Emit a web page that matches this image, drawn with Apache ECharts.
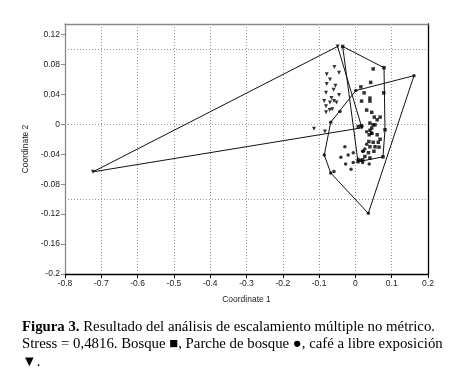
<!DOCTYPE html>
<html>
<head>
<meta charset="utf-8">
<script src="https://cdn.jsdelivr.net/npm/echarts@6/dist/echarts.min.js"></script>
<style>html,body{margin:0;padding:0;background:#fff}#c{width:450px;height:390px}</style>
</head>
<body>
<div id="c"></div>
<script>
// Bosque (squares)
var bosque = [
  [-0.035,0.104],[0.0788,0.0756],[0.0815,-0.0073],[0.076,-0.0435],[0.0071,-0.050],
  [0.049,0.074],[0.042,0.056],[0.015,0.050],[0.024,0.042],[0.040,0.035],[0.040,0.031],
  [0.017,0.031],[0.078,0.042],[0.031,0.019],[0.045,0.016],[0.052,0.0096],[0.060,0.006],
  [0.068,0.0096],[0.040,0.0016],[0.054,-0.0007],[0.008,-0.003],[0.017,-0.002],
  [0.049,-0.0007],[0.045,-0.005],[0.040,-0.008],[0.045,-0.012],[0.038,-0.014],
  [0.037,-0.023],[0.049,-0.024],[0.063,-0.024],[0.040,-0.030],[0.054,-0.030],
  [0.065,-0.0305],[0.036,-0.038],[0.051,-0.036],[0.026,-0.043],[0.040,-0.045],
  [0.020,-0.0475],[0.060,-0.014],[0.068,-0.020]
];
// Parche de bosque (circles)
var parche = [
  [0.001,0.045],[0.1614,0.065],[0.0355,-0.119],[-0.068,-0.065],[-0.0857,-0.041],[-0.068,0.0027],
  [-0.0424,0.017],[-0.029,-0.030],[-0.020,-0.041],[-0.040,-0.044],[-0.006,-0.038],
  [-0.027,-0.053],[-0.012,-0.060],[-0.006,-0.051],[0.008,-0.0466],[0.015,-0.048],
  [0.020,-0.051],[0.038,-0.053],[0.020,-0.036],[0.031,-0.0265],[0.026,-0.033],
  [0.022,-0.036],[-0.059,-0.063],[0.045,-0.012],[0.031,-0.010]
];
// Café a libre exposición (triangles)
var cafe = [
  [-0.723,-0.0635],[-0.049,0.104],[0.018,-0.0047],[-0.058,0.0765],[-0.045,0.069],
  [-0.079,0.067],[-0.070,0.060],[-0.079,0.054],[-0.055,0.0515],[-0.045,0.039],
  [-0.081,0.042],[-0.066,0.035],[-0.059,0.031],[-0.086,0.031],[-0.070,0.029],
  [-0.052,0.029],[-0.081,0.024],[-0.064,0.020],[-0.081,0.016],[-0.071,0.019],
  [-0.114,-0.006],[-0.084,-0.0096],[-0.060,0.046]
];
var yTicks = [-0.2,-0.16,-0.12,-0.08,-0.04,0,0.04,0.08,0.12];
var gridX = [-0.7,-0.6,-0.5,-0.4,-0.3,-0.2,-0.1,0,0.1];
var gridY = [-0.1,0,0.1];

function hull(pts){
  var p = pts.slice().sort(function(a,b){return a[0]-b[0]||a[1]-b[1];});
  function cross(o,a,b){return (a[0]-o[0])*(b[1]-o[1])-(a[1]-o[1])*(b[0]-o[0]);}
  var lower=[],upper=[];
  p.forEach(function(q){while(lower.length>=2&&cross(lower[lower.length-2],lower[lower.length-1],q)<=0)lower.pop();lower.push(q);});
  for(var i=p.length-1;i>=0;i--){var q=p[i];while(upper.length>=2&&cross(upper[upper.length-2],upper[upper.length-1],q)<=0)upper.pop();upper.push(q);}
  upper.pop();lower.pop();
  var h=lower.concat(upper);h.push(h[0]);return h;
}

var font = 'Liberation Sans';
var chart = echarts.init(document.getElementById('c'), null, {renderer:'canvas'});
function hullSeries(pts, extra){
  var s = {type:'line', data:hull(pts), symbol:'none', silent:true, z:2,
    lineStyle:{color:'#111', width:1}, animation:false};
  if (extra) for (var k in extra) s[k]=extra[k];
  return s;
}
var gridMarks = gridX.map(function(v){return {xAxis:v};}).concat(gridY.map(function(v){return {yAxis:v};}));
var serif = '"Liberation Serif"';

chart.setOption({
  animation:false,
  grid:{left:65, right:22, top:24, bottom:116},
  xAxis:[{
    type:'value', min:-0.8, max:0.2, interval:0.1,
    name:'Coordinate 1', nameLocation:'middle', nameGap:21,
    nameTextStyle:{fontFamily:font, fontSize:8.5, color:'#222'},
    axisLine:{onZero:false, lineStyle:{color:'#000', width:1.3}},
    axisTick:{length:4, lineStyle:{color:'#000'}},
    axisLabel:{fontFamily:font, fontSize:8.5, color:'#222', margin:5,
      formatter:function(v){return String(+v.toFixed(1));}},
    splitLine:{show:false}
  },{
    type:'value', position:'top', min:-0.8, max:0.2,
    axisLine:{onZero:false, lineStyle:{color:'#888', width:1.3}},
    axisTick:{show:false}, axisLabel:{show:false}, splitLine:{show:false}
  }],
  yAxis:[{
    type:'value', min:-0.2, max:0.134,
    name:'Coordinate 2', nameLocation:'middle', nameGap:29, nameRotate:90,
    nameTextStyle:{fontFamily:font, fontSize:8.5, color:'#222'},
    axisLine:{onZero:false, lineStyle:{color:'#888', width:1.3}},
    axisTick:{length:4, lineStyle:{color:'#888'}, customValues:yTicks},
    axisLabel:{fontFamily:font, fontSize:8.5, color:'#222', margin:5, customValues:yTicks,
      formatter:function(v){return String(+(+v).toFixed(2));}},
    splitLine:{show:false}
  },{
    type:'value', position:'right', min:-0.2, max:0.134,
    axisLine:{show:true, onZero:false, lineStyle:{color:'#000', width:1.3}},
    axisTick:{show:false}, axisLabel:{show:false}, splitLine:{show:false}
  }],
  series:[
    hullSeries(cafe, {markLine:{silent:true, symbol:['none','none'], label:{show:false},
      lineStyle:{type:[1,2], color:'#999', width:1}, data:gridMarks, z:1}}),
    hullSeries(bosque),
    hullSeries(parche),
    {type:'scatter', name:'Bosque', data:bosque, symbol:'rect', symbolSize:3.5,
      itemStyle:{color:'#000'}, z:3},
    {type:'scatter', name:'Parche de bosque', data:parche, symbol:'circle', symbolSize:3.5,
      itemStyle:{color:'#000'}, z:3},
    {type:'scatter', name:'Café a libre exposición', data:cafe, symbol:'triangle', symbolRotate:180, symbolSize:4,
      itemStyle:{color:'#000'}, z:3}
  ],
  graphic:[
    {type:'text', x:22, y:327, style:{
      text:'{b|Figura 3.} Resultado del análisis de escalamiento múltiple no métrico.',
      font:'14.8px ' + serif, fill:'#000', verticalAlign:'middle',
      rich:{b:{font:'bold 14.8px ' + serif, fill:'#000'}}}},
    {type:'text', x:22, y:344, style:{
      text:'Stress = 0,4816. Bosque ■, Parche de bosque ●, café a libre exposición',
      font:'14.8px ' + serif, fill:'#000', verticalAlign:'middle'}},
    {type:'text', x:22, y:362, style:{
      text:'▼.', font:'14.8px ' + serif, fill:'#000', verticalAlign:'middle'}}
  ]
});
</script>
</body>
</html>
